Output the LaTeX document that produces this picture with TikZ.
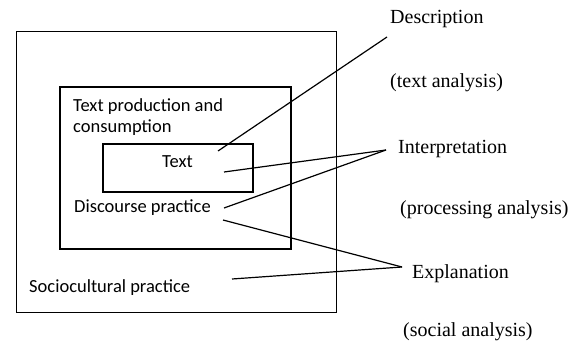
\documentclass[tikz,border=0pt]{standalone}
\usepackage{fontspec}
\setmainfont{Liberation Serif}
\newfontfamily\calib{Carlito}
\begin{document}
\begin{tikzpicture}[x=1pt,y=-1pt,
  boxa/.style={draw, line width=1.1pt, inner sep=0pt, anchor=north west},
  boxb/.style={draw, line width=1.6pt, inner sep=0pt, anchor=north west},
  lbl/.style={anchor=base west, inner sep=0pt, font=\calib\fontsize{18.5}{22}\selectfont},
  rlbl/.style={anchor=base west, inner sep=0pt, font=\fontsize{20}{24}\selectfont},
  conn/.style={line width=1.2pt}]
\useasboundingbox (0,0) rectangle (585,347);
\node[boxa, minimum width=320pt, minimum height=281pt] (outer) at (16,31) {};
\node[boxb, minimum width=231pt, minimum height=162pt] (middle) at (59,86) {};
\node[boxb, minimum width=150pt, minimum height=48pt] (inner) at (102,143) {};
\node[lbl] (tpc1) at (73,112) {Text production and};
\node[lbl] (tpc2) at (73,133) {consumption};
\node[lbl] (txt) at (162,168) {Text};
\node[lbl] (dp) at (74,212) {Discourse practice};
\node[lbl] (sp) at (29,292) {Sociocultural practice};
\node[rlbl] (desc) at (390,24) {Description};
\node[rlbl] (ta) at (390,88) {(text analysis)};
\node[rlbl] (interp) at (398,154) {Interpretation};
\node[rlbl] (pa) at (400,214) {(processing analysis)};
\node[rlbl] (expl) at (412,278) {Explanation};
\node[rlbl] (sa) at (403,336) {(social analysis)};
\coordinate (d0) at (218,151);
\coordinate (d1) at (387,37);
\coordinate (t0) at (224,172);
\coordinate (i1) at (386,150);
\coordinate (p0) at (224,208);
\coordinate (p1) at (223,220);
\coordinate (e1) at (402,267);
\coordinate (s0) at (232,279);
\draw[conn] (d0) -- (d1);
\draw[conn] (t0) -- (i1);
\draw[conn] (p0) -- (i1);
\draw[conn] (p1) -- (e1);
\draw[conn] (s0) -- (e1);
\end{tikzpicture}
\end{document}
